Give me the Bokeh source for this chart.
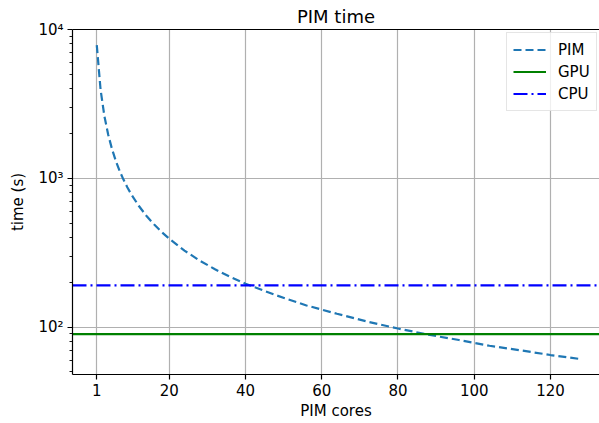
from bokeh.plotting import figure
from bokeh.models import Range1d, FixedTicker, Legend, LegendItem, LinearAxis
from bokeh.embed import file_html
from bokeh.resources import INLINE

# ---- data ----
cores = [1, 2, 3, 4, 5, 6, 7, 8, 9, 10, 12, 14, 16, 18, 20, 24, 28, 32, 36, 40,
         48, 56, 64, 72, 80, 88, 96, 104, 112, 120, 128]
pim_time = [7850, 3925, 2617, 1963, 1570, 1308, 1121, 981, 872, 785, 654, 561, 491,
            436, 393, 327, 280, 245, 218, 196, 164, 140, 123, 109, 98, 89, 82, 75,
            70, 65, 61]
gpu_time = 89.7
cpu_time = 191.0
x_ticks = [1, 20, 40, 60, 80, 100, 120]
y_ticks = [100, 1000, 10000]
y_labels = {100: "10²", 1000: "10³", 10000: "10⁴"}
title_text = "PIM time"

FONT = "DejaVu Sans"
x_start, x_end = -5.37, 132.86
y_start, y_end = 48.1, 10000

p = figure(width=599, height=423, output_backend="svg", toolbar_location=None,
           y_axis_type="log", x_range=Range1d(x_start, x_end),
           y_range=Range1d(y_start, y_end), title=title_text,
           min_border_left=72, min_border_right=0, min_border_top=29,
           min_border_bottom=49)
p.outline_line_color = None
p.background_fill_color = "white"

p.title.align = "center"
p.title.offset = 3
p.title.text_font = FONT
p.title.text_font_size = "18px"
p.title.text_font_style = "normal"
p.title.text_color = "black"
p.title.standoff = 5

# axes
p.xaxis.ticker = FixedTicker(ticks=x_ticks)
minor = [m * 10 ** e for e in (1, 2, 3) for m in range(2, 10)]
p.yaxis.ticker = FixedTicker(ticks=y_ticks, minor_ticks=minor)
p.yaxis.major_label_overrides = y_labels
for ax in (p.xaxis[0], p.yaxis[0]):
    ax.axis_line_color = "black"
    ax.axis_line_width = 1.2
    ax.major_tick_line_color = "black"
    ax.major_tick_line_width = 1.2
    ax.major_tick_out = 5
    ax.major_tick_in = 0
    ax.minor_tick_line_color = "black"
    ax.minor_tick_line_width = 0.9
    ax.minor_tick_out = 3
    ax.minor_tick_in = 0
    ax.major_label_text_font = FONT
    ax.major_label_text_font_size = "15px"
    ax.major_label_text_color = "black"
    ax.axis_label_text_font = FONT
    ax.axis_label_text_font_size = "15px"
    ax.axis_label_text_font_style = "normal"
    ax.axis_label_text_color = "black"
p.xaxis.minor_tick_line_color = None
p.xaxis.axis_label = "PIM cores"
p.yaxis.axis_label = "time (s)"
p.xaxis.major_label_standoff = 4
p.xaxis.axis_label_standoff = 3
p.yaxis.major_label_standoff = 4
p.yaxis.axis_label_standoff = 8

top = LinearAxis(major_tick_line_color=None, minor_tick_line_color=None,
                 major_label_text_font_size="0px", axis_line_color="black",
                 axis_line_width=1.2, ticker=FixedTicker(ticks=[]))
p.add_layout(top, "above")

p.xgrid.ticker = FixedTicker(ticks=x_ticks)
p.ygrid.ticker = FixedTicker(ticks=y_ticks)
for g in (p.xgrid[0], p.ygrid[0]):
    g.grid_line_color = "#b0b0b0"
    g.grid_line_width = 1.2

r_pim = p.line(cores, pim_time, line_color="#1f77b4", line_width=2.2,
               line_dash="8 4")
r_gpu = p.line([x_start, x_end], [gpu_time, gpu_time], line_color="#008000",
               line_width=2.2)
r_cpu = p.line([x_start, x_end], [cpu_time, cpu_time], line_color="#0000ff",
               line_width=2.2, line_dash="14 4 2 4")

legend = Legend(items=[LegendItem(label="PIM", renderers=[r_pim]),
                       LegendItem(label="GPU", renderers=[r_gpu]),
                       LegendItem(label="CPU", renderers=[r_cpu])],
                location=(434, 263))
legend.label_text_font = FONT
legend.label_text_font_size = "15px"
legend.label_text_color = "black"
legend.glyph_width = 33
legend.glyph_height = 21
legend.label_height = 21
legend.label_standoff = 12
legend.spacing = 1
legend.padding = 6
legend.margin = 0
legend.border_line_color = "#cccccc"
legend.border_line_width = 1
legend.background_fill_alpha = 0.8
p.add_layout(legend)

open("out.html", "w").write(file_html(p, INLINE))
